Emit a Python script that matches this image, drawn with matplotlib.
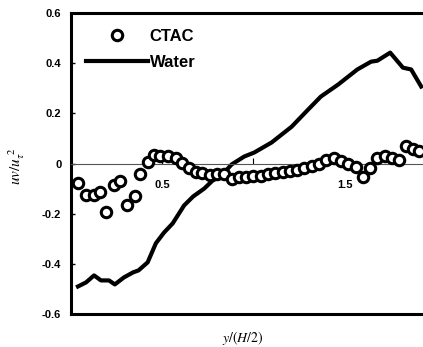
import numpy as np
import matplotlib.pyplot as plt

# Reynolds shear stress profiles across the channel
ctac_x = [0.038, 0.082, 0.125, 0.158, 0.19, 0.235, 0.27, 0.306, 0.35, 0.38,
          0.42, 0.455, 0.49, 0.53, 0.574, 0.607, 0.645, 0.683, 0.72, 0.76,
          0.80, 0.84, 0.88, 0.92, 0.96, 1.0, 1.04, 1.08, 1.12, 1.16,
          1.2, 1.24, 1.28, 1.32, 1.36, 1.40, 1.44, 1.48, 1.52, 1.56,
          1.60, 1.64, 1.68, 1.72, 1.76, 1.80, 1.835, 1.874, 1.91]
ctac_y = [-0.076, -0.127, -0.127, -0.115, -0.195, -0.084, -0.068, -0.167, -0.131, -0.04,
          0.008, 0.032, 0.03, 0.03, 0.024, 0.004, -0.016, -0.032, -0.036, -0.044,
          -0.04, -0.04, -0.06, -0.052, -0.052, -0.05, -0.048, -0.04, -0.036, -0.034,
          -0.03, -0.024, -0.016, -0.008, 0.0, 0.016, 0.024, 0.012, 0.0, -0.012,
          -0.052, -0.016, 0.024, 0.03, 0.024, 0.016, 0.068, 0.056, 0.048]

water_x = [0.038, 0.082, 0.126, 0.164, 0.208, 0.24, 0.29, 0.34, 0.37, 0.42,
           0.465, 0.51, 0.557, 0.62, 0.67, 0.73, 0.776, 0.82, 0.88, 0.95,
           1.005, 1.10, 1.21, 1.30, 1.37, 1.465, 1.57, 1.645, 1.68, 1.75,
           1.82, 1.865, 1.92]
water_y = [-0.49, -0.474, -0.446, -0.466, -0.466, -0.482, -0.454, -0.434, -0.426, -0.394,
           -0.318, -0.275, -0.239, -0.167, -0.131, -0.1, -0.068, -0.052, -0.004, 0.028,
           0.044, 0.084, 0.147, 0.215, 0.267, 0.315, 0.375, 0.406, 0.41, 0.442,
           0.382, 0.375, 0.307]

yticks = [-0.6, -0.4, -0.2, 0, 0.2, 0.4, 0.6]
ytick_labels = ['-0.6', '-0.4', '-0.2', '0', '0.2', '0.4', '0.6']
xticks = [0.5, 1.0, 1.5]
xtick_labels = ['0.5', '', '1.5']

plt.rcParams['font.family'] = ['Liberation Sans', 'DejaVu Sans']
plt.rcParams['mathtext.fontset'] = 'stix'

fig = plt.figure(figsize=(4.23, 3.47), dpi=100)
ax = fig.add_axes([0.168, 0.095, 0.832, 0.8675])

ax.plot(water_x, water_y, color='black', lw=3, label='Water', zorder=2)
ax.plot(ctac_x, ctac_y, 'o', mfc='white', mec='black', ms=7.5, mew=2.2,
        ls='none', label='CTAC', zorder=3)

ax.set_xlim(0, 1.93)
ax.set_ylim(-0.6, 0.6)

# x axis runs along y = 0, the frame bottom is drawn separately
ax.spines['bottom'].set_position(('data', 0))
ax.spines['bottom'].set_linewidth(0.8)
ax.spines['bottom'].set_color('#555555')
ax.spines['right'].set_visible(False)
ax.spines['left'].set_linewidth(2.2)
ax.spines['top'].set_linewidth(2.2)
ax.axhline(-0.6, color='black', lw=2.2, clip_on=False)

ax.set_xticks(xticks)
ax.set_xticklabels(xtick_labels, fontsize=8, fontweight='bold')
ax.tick_params(axis='x', direction='in', length=4, width=0.8, pad=12)
ax.set_yticks(yticks)
ax.set_yticklabels(ytick_labels, fontsize=8, fontweight='bold')
ax.tick_params(axis='y', direction='in', length=3, width=1, pad=7)

ax.set_ylabel(r'$uv/u_{\tau}^{\ 2}$', fontsize=11)
ax.yaxis.set_label_coords(-0.125, 0.49)
fig.text(0.574, 0.027, r'$y/(H/2)$', fontsize=10, ha='center', va='center')

handles, labels = ax.get_legend_handles_labels()
ax.legend(handles[::-1], labels[::-1], loc='upper left', bbox_to_anchor=(0.043, 0.948),
          frameon=False, handlelength=3.7, handletextpad=0.12,
          labelspacing=0.68, borderpad=0, borderaxespad=0,
          prop={'weight': 'bold', 'size': 12})

fig.savefig('out.png', dpi=100)
